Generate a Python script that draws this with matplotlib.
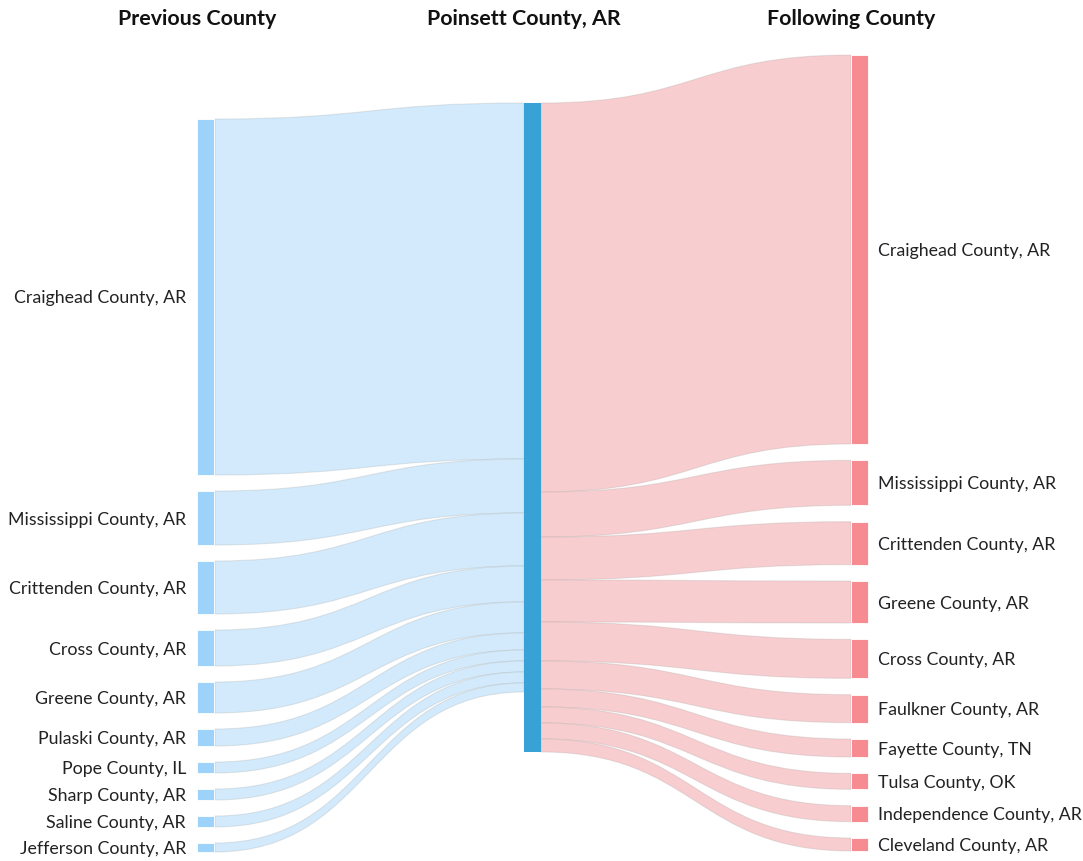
import numpy as np
import matplotlib.pyplot as plt
from matplotlib.path import Path
from matplotlib.patches import PathPatch, Rectangle

plt.rcParams['font.family'] = ['Lato', 'DejaVu Sans']

center_county = 'Poinsett County, AR'

prev_counties = ['Craighead County, AR', 'Mississippi County, AR', 'Crittenden County, AR',
                 'Cross County, AR', 'Greene County, AR', 'Pulaski County, AR',
                 'Pope County, IL', 'Sharp County, AR', 'Saline County, AR',
                 'Jefferson County, AR']
prev_values = [356, 54, 53, 36, 31, 17, 11, 11, 11, 9]

next_counties = ['Craighead County, AR', 'Mississippi County, AR', 'Crittenden County, AR',
                 'Greene County, AR', 'Cross County, AR', 'Faulkner County, AR',
                 'Fayette County, TN', 'Tulsa County, OK', 'Independence County, AR',
                 'Cleveland County, AR']
next_values = [389, 45, 43, 42, 39, 28, 18, 16, 16, 13]

titles = ['Previous County', center_county, 'Following County']

# colours
left_node_c = '#9dd3fb'
left_flow_c = '#d2eafb'
mid_node_c = '#38a1d5'
right_node_c = '#f68b91'
right_flow_c = '#f8cdcf'

# layout (pixels)
W, H = 1083, 861
node_w = 17
x_left, x_mid, x_right = 197, 524, 851
left_span = (119, 852)
right_span = (55, 851)
mid_top = 103


def band(ax, x0, y0a, y0b, x1, y1a, y1b, color):
    xm = (x0 + x1) / 2
    verts = [(x0, y0a), (xm, y0a), (xm, y1a), (x1, y1a),
             (x1, y1b),
             (xm, y1b), (xm, y0b), (x0, y0b),
             (x0, y0a)]
    codes = [Path.MOVETO, Path.CURVE4, Path.CURVE4, Path.CURVE4,
             Path.LINETO,
             Path.CURVE4, Path.CURVE4, Path.CURVE4,
             Path.CLOSEPOLY]
    ax.add_patch(PathPatch(Path(verts, codes), facecolor=color,
                           edgecolor=(0.6, 0.6, 0.6, 0.22), lw=0.8, zorder=1))


def column_tops(values, span):
    top, bottom = span
    pad = (bottom - top - sum(values)) / (len(values) - 1)
    y = top
    tops = []
    for v in values:
        tops.append(y)
        y += v + pad
    return tops


fig = plt.figure(figsize=(W / 100, H / 100), dpi=100)
ax = fig.add_axes([0, 0, 1, 1])
ax.set_xlim(0, W)
ax.set_ylim(H, 0)
ax.axis('off')

# left column + flows into centre
tops = column_tops(prev_values, left_span)
ym = mid_top
for name, v, t in zip(prev_counties, prev_values, tops):
    ax.add_patch(Rectangle((x_left, t), node_w, v, facecolor=left_node_c,
                           edgecolor='white', lw=0.6, zorder=2))
    band(ax, x_left + node_w + 1, t, t + v, x_mid, ym, ym + v, left_flow_c)
    ym += v
    ax.text(x_left - 11, t + v / 2 + 1.5, name, ha='right', va='center',
            fontsize=12.8, color='#222222')

# right column + flows out of centre
tops = column_tops(next_values, right_span)
ym = mid_top
for name, v, t in zip(next_counties, next_values, tops):
    ax.add_patch(Rectangle((x_right, t), node_w, v, facecolor=right_node_c,
                           edgecolor='white', lw=0.6, zorder=2))
    band(ax, x_mid + node_w, ym, ym + v, x_right, t, t + v, right_flow_c)
    ym += v
    ax.text(x_right + node_w + 10, t + v / 2 + 1.5, name, ha='left', va='center',
            fontsize=12.8, color='#222222')

# centre node
mid_h = max(sum(prev_values), sum(next_values))
ax.add_patch(Rectangle((x_mid, mid_top), node_w, mid_h, facecolor=mid_node_c,
                       edgecolor='none', zorder=3))

for x, t in zip([x_left, x_mid, x_right], titles):
    ax.text(x, 19, t, ha='center', va='center', fontsize=15.4, fontweight='bold',
            color='#111111')

fig.savefig('out.png', dpi=100)
